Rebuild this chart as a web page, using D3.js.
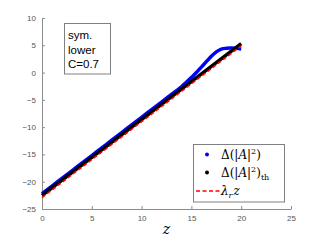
<!DOCTYPE html>
<html>
<head>
<meta charset="utf-8">
<script src="https://cdn.jsdelivr.net/npm/d3@7"></script>
<style>
  body { margin: 0; background: #fff; }
  svg { display: block; }
</style>
</head>
<body>
<div id="chart"></div>
<script>
// data
const zSim = [0, 1, 2, 3, 4, 5, 6, 7, 8, 9, 10, 11, 12, 13, 14, 15, 15.5, 16, 16.5, 17, 17.5, 18, 18.5, 19, 19.5, 20];
const simVals = [-22.2, -20.8, -19.4, -18.0, -16.6, -15.2, -13.8, -12.4, -11.0, -9.6, -8.2, -6.8, -5.4, -4.0, -2.6, -0.9, 0.0, 1.0, 2.0, 3.0, 3.8, 4.3, 4.45, 4.5, 4.45, 4.3];
const zTh = [0, 20];
const thVals = [-22.5, 5.3];
const zLin = [0, 20];
const linVals = [-22.9, 4.9];
const xTicks = [0, 5, 10, 15, 20, 25];
const yTicks = [-25, -20, -15, -10, -5, 0, 5, 10];
const boxLines = ["sym.", "lower", "C=0.7"];

const W = 321, H = 241;
const svg = d3.select("#chart").append("svg")
  .attr("width", W).attr("height", H);

const x = d3.scaleLinear().domain([0, 25]).range([42, 291]);
const y = d3.scaleLinear().domain([-25, 10]).range([209, 18]);

const axisColor = "#8c8c8c";
const tickText = "#555";

// x axis
const gx = svg.append("g")
  .attr("transform", "translate(0," + y(-25) + ")")
  .call(d3.axisBottom(x).tickValues(xTicks).tickSizeInner(-3).tickSizeOuter(0).tickPadding(6));
// y axis
const gy = svg.append("g")
  .attr("transform", "translate(" + x(0) + ",0)")
  .call(d3.axisLeft(y).tickValues(yTicks).tickSizeInner(-3).tickSizeOuter(0).tickPadding(6));

[gx, gy].forEach(g => {
  g.select(".domain").attr("stroke", axisColor);
  g.selectAll(".tick line").attr("stroke", axisColor);
  g.selectAll(".tick text")
    .attr("fill", tickText)
    .style("font-family", "Helvetica, Arial, 'Liberation Sans', sans-serif")
    .style("font-size", "8px");
});

// x label
svg.append("text")
  .attr("x", (x(0) + x(25)) / 2)
  .attr("y", 234)
  .attr("text-anchor", "middle")
  .style("font-family", "'DejaVu Serif', 'Liberation Serif', serif")
  .style("font-style", "italic")
  .style("font-size", "14px")
  .text("z");

const line = d3.line().x(d => x(d[0])).y(d => y(d[1]));

// simulation (blue dots, dense enough to read as a line)
svg.append("path")
  .datum(d3.zip(zSim, simVals))
  .attr("d", line.curve(d3.curveMonotoneX))
  .attr("fill", "none")
  .attr("stroke", "#0000ff")
  .attr("stroke-width", 3.5);

// theory (black)
svg.append("path")
  .datum(d3.zip(zTh, thVals))
  .attr("d", d3.line().x(d => x(d[0])).y(d => y(d[1])))
  .attr("fill", "none")
  .attr("stroke", "#000")
  .attr("stroke-width", 3.5);

// lambda_r z (red dashed)
svg.append("path")
  .datum(d3.zip(zLin, linVals))
  .attr("d", d3.line().x(d => x(d[0])).y(d => y(d[1])))
  .attr("fill", "none")
  .attr("stroke", "#ff0000")
  .attr("stroke-width", 1.6)
  .attr("stroke-dasharray", "4,2.5");

// text box top-left
svg.append("rect")
  .attr("x", 64.5).attr("y", 23.5)
  .attr("width", 46).attr("height", 50.5)
  .attr("fill", "#fff").attr("stroke", "#808080");
svg.append("g").selectAll("text")
  .data(boxLines)
  .enter().append("text")
  .attr("x", 68)
  .attr("y", (d, i) => 39 + i * 14.5)
  .style("font-family", "Helvetica, Arial, 'Liberation Sans', sans-serif")
  .style("font-size", "11.5px")
  .text(d => d);

// legend
const leg = svg.append("g");
leg.append("rect")
  .attr("x", 193.5).attr("y", 144.5)
  .attr("width", 91).attr("height", 57.5)
  .attr("fill", "#fff").attr("stroke", "#808080");

const serif = "'DejaVu Serif', 'Liberation Serif', serif";
leg.append("circle").attr("cx", 207).attr("cy", 154.5).attr("r", 2).attr("fill", "#0000ff");
leg.append("circle").attr("cx", 207).attr("cy", 172.5).attr("r", 2).attr("fill", "#000");
leg.append("line")
  .attr("x1", 196).attr("x2", 220).attr("y1", 191).attr("y2", 191)
  .attr("stroke", "#ff0000").attr("stroke-width", 1.6).attr("stroke-dasharray", "4,2.5");

function deltaLabel(yPos, sub) {
  const t = leg.append("text")
    .attr("x", 221).attr("y", yPos)
    .style("font-family", serif)
    .style("font-size", "12px");
  t.append("tspan").text("Δ(|");
  t.append("tspan").style("font-style", "italic").text("A");
  t.append("tspan").text("|");
  t.append("tspan").attr("dy", -5).style("font-size", "8px").text("2");
  t.append("tspan").attr("dy", 5).text(")");
  if (sub) t.append("tspan").attr("dy", 3).style("font-size", "8px").text(sub);
}
deltaLabel(159, null);
deltaLabel(177, "th");

const lt = leg.append("text")
  .attr("x", 221).attr("y", 195)
  .style("font-family", serif)
  .style("font-size", "12px")
  .style("font-style", "italic");
lt.append("tspan").text("λ");
lt.append("tspan").attr("dy", 3).style("font-size", "8px").text("r");
lt.append("tspan").attr("dy", -3).attr("dx", 1).text("z");
</script>
</body>
</html>
